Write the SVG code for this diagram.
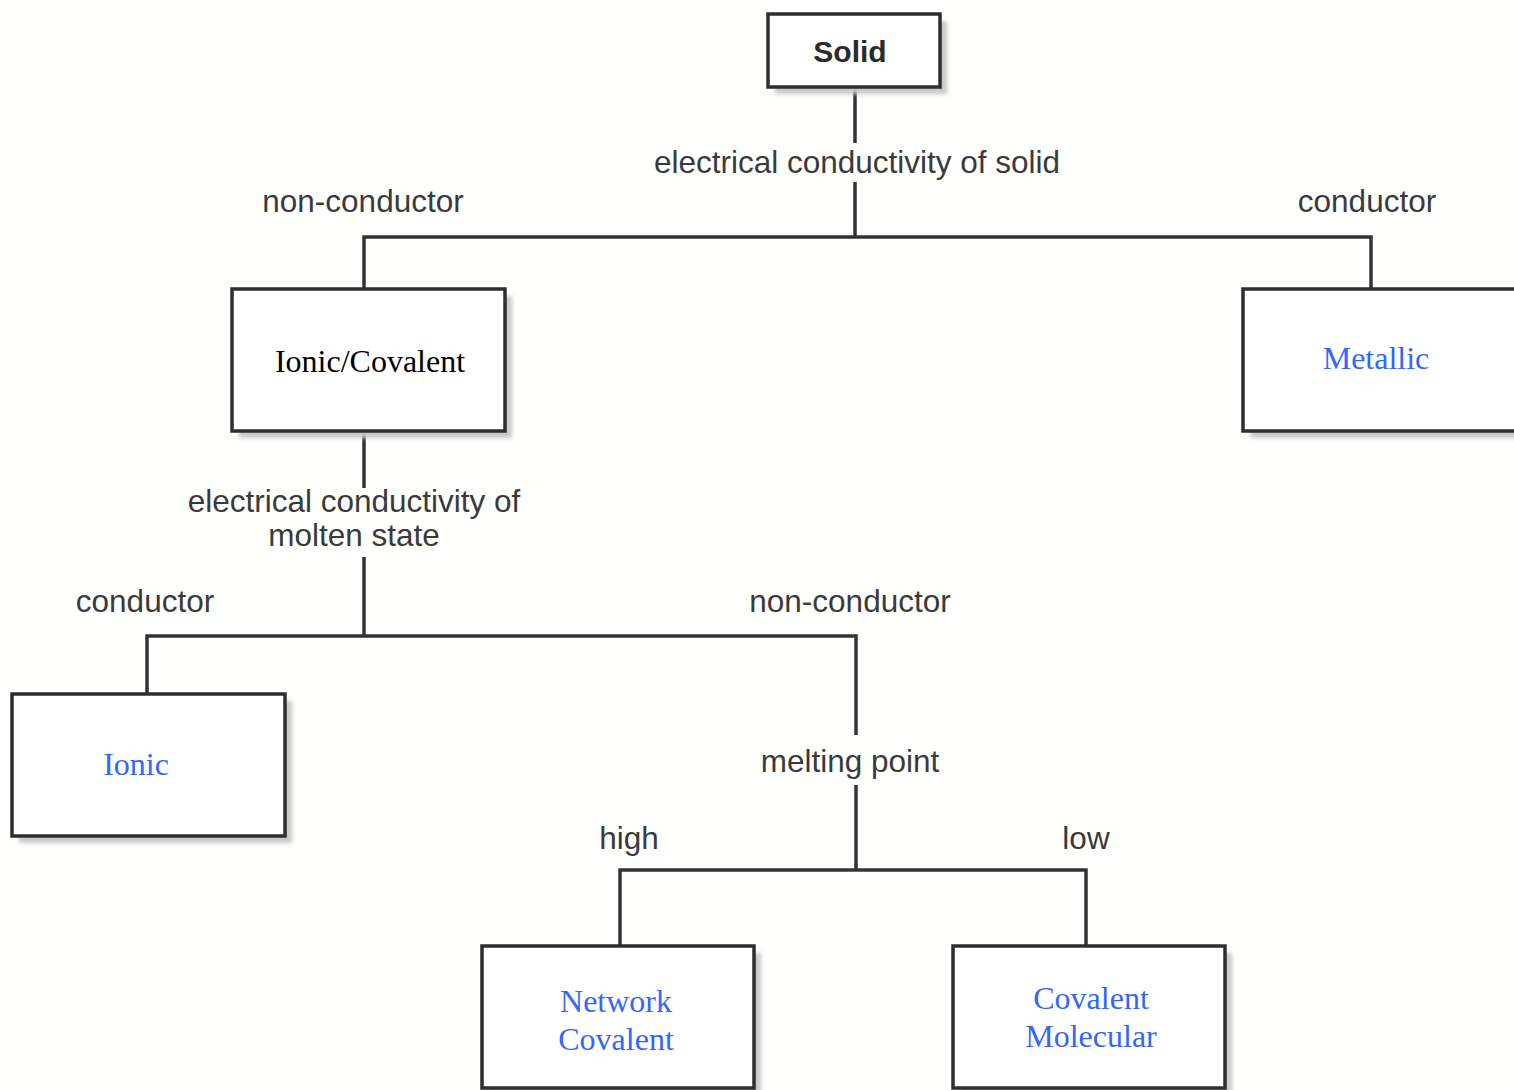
<svg xmlns="http://www.w3.org/2000/svg" width="1514" height="1090" viewBox="0 0 1514 1090">
<defs>
<filter id="sh" x="-10%" y="-10%" width="130%" height="130%">
<feGaussianBlur stdDeviation="2"/>
</filter>
</defs>
<style>
.box{fill:#ffffff;stroke:#2e2e2e;stroke-width:3.5}
.shadow{fill:#c8c8c8;filter:url(#sh)}
.conn{fill:none;stroke:#333333;stroke-width:3.5}
.lbl{font-family:"Liberation Sans",Arial,sans-serif;font-size:31.5px;fill:#3a3a3a;text-anchor:middle}
.title{font-family:"Liberation Sans",Arial,sans-serif;font-size:30px;font-weight:bold;fill:#2a2a2a;text-anchor:middle}
.blk{font-family:"Liberation Serif","Times New Roman",serif;font-size:32px;fill:#000000;text-anchor:middle}
.blue{font-family:"Liberation Serif","Times New Roman",serif;font-size:32px;fill:#3366ff;text-anchor:middle}
</style>
<rect width="1514" height="1090" fill="#fffffd"/>
<g id="connectors">
<path class="conn" d="M855,87 V143 M855,182 V237"/>
<path class="conn" d="M364,289 V237 H1371 V289"/>
<path class="conn" d="M364,431 V488 M364,557 V636"/>
<path class="conn" d="M147,694 V636 H856 V735 M856,785 V870"/>
<path class="conn" d="M620,946 V870 H1086 V946"/>
<text class="lbl" x="857" y="173">electrical conductivity of solid</text>
<text class="lbl" x="363" y="212">non-conductor</text>
<text class="lbl" x="1367" y="212">conductor</text>
<text class="lbl" x="354" y="512">electrical conductivity of</text>
<text class="lbl" x="354" y="546">molten state</text>
<text class="lbl" x="145" y="612">conductor</text>
<text class="lbl" x="850" y="612">non-conductor</text>
<text class="lbl" x="850" y="772">melting point</text>
<text class="lbl" x="629" y="849">high</text>
<text class="lbl" x="1086" y="849">low</text>
</g>
<g id="solid">
<rect class="shadow" x="775" y="21" width="172" height="73"/>
<rect class="box" x="768" y="14" width="172" height="73"/>
<text class="title" x="850" y="62">Solid</text>
</g>
<g id="ionic-covalent">
<rect class="shadow" x="239" y="296" width="273" height="142"/>
<rect class="box" x="232" y="289" width="273" height="142"/>
<text class="blk" x="370" y="372">Ionic/Covalent</text>
</g>
<g id="metallic">
<rect class="shadow" x="1250" y="296" width="280" height="142"/>
<rect class="box" x="1243" y="289" width="280" height="142"/>
<text class="blue" x="1376" y="369">Metallic</text>
</g>
<g id="ionic">
<rect class="shadow" x="19" y="701" width="273" height="142"/>
<rect class="box" x="12" y="694" width="273" height="142"/>
<text class="blue" x="136" y="775">Ionic</text>
</g>
<g id="network-covalent">
<rect class="shadow" x="489" y="953" width="272" height="142"/>
<rect class="box" x="482" y="946" width="272" height="142"/>
<text class="blue" x="616" y="1012">Network</text>
<text class="blue" x="616" y="1050">Covalent</text>
</g>
<g id="covalent-molecular">
<rect class="shadow" x="960" y="953" width="272" height="142"/>
<rect class="box" x="953" y="946" width="272" height="142"/>
<text class="blue" x="1091" y="1009">Covalent</text>
<text class="blue" x="1091" y="1047">Molecular</text>
</g>
</svg>
